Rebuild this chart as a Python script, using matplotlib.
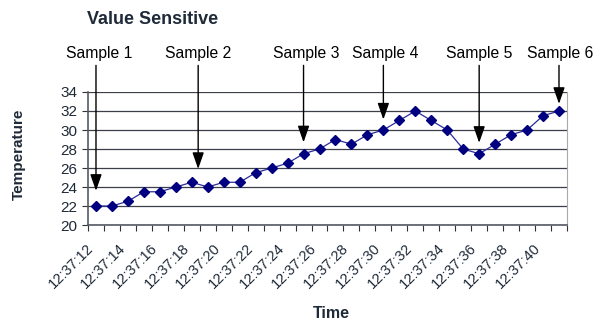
import matplotlib
matplotlib.use("Agg")
import matplotlib.pyplot as plt

plt.rcParams['font.family'] = ['Liberation Sans', 'DejaVu Sans']

# readings, one per second from 12:37:12 to 12:37:41
times = [f"12:37:{s}" for s in range(12, 42)]
temps = [22, 22, 22.5, 23.5, 23.5, 24, 24.5, 24, 24.5, 24.5,
         25.5, 26, 26.5, 27.5, 28, 29, 28.5, 29.5, 30, 31,
         32, 31, 30, 28, 27.5, 28.5, 29.5, 30, 31.5, 32]

# sample markers (x = category index, tip = temperature where the arrow points)
sample_labels = ["Sample 1", "Sample 2", "Sample 3", "Sample 4", "Sample 5", "Sample 6"]
sample_x = [0, 6.4, 13, 18, 24, 29]
sample_tip = [23.6, 25.9, 28.7, 31.1, 28.65, 32.75]
sample_text_x = [0.2, 6.4, 13.2, 18.1, 24, 29.1]

text_col = '#1f2a38'

fig = plt.figure(figsize=(6.04, 3.22), dpi=100)
ax = fig.add_axes([0.1457, 0.3012, 0.793, 0.4131])

x = list(range(len(times)))
ax.plot(x, temps, color='#2b2b9a', lw=0.9, marker='D', markersize=4.8,
        markerfacecolor='#000080', markeredgecolor='#000080', zorder=3)

ax.set_xlim(-0.5, len(times) - 0.5)
ax.set_ylim(20, 34)
ax.set_yticks(range(20, 35, 2))
ax.yaxis.grid(True, color='#3a3f4a', lw=0.9)
ax.set_axisbelow(True)

# ticks at category boundaries, labels on every second category
ax.set_xticks([i - 0.5 for i in range(len(times) + 1)])
ax.set_xticklabels([])
ax.set_xticks(x[::2], minor=True)
ax.set_xticklabels(times[::2], minor=True, rotation=45, ha='right', va='bottom',
                   rotation_mode='anchor', fontsize=10.5, color=text_col)
ax.tick_params(axis='x', which='major', length=4, color='#333333', direction='out')
ax.tick_params(axis='x', which='minor', length=0, pad=19)
ax.tick_params(axis='y', length=4, color='#333333', labelsize=11, labelcolor=text_col)

for side in ['left', 'bottom']:
    ax.spines[side].set_color('#555a63')
    ax.spines[side].set_linewidth(1.2)
ax.spines['right'].set_color('#aaaaaa')
ax.spines['top'].set_visible(False)

for lab, sx, tip, tx in zip(sample_labels, sample_x, sample_tip, sample_text_x):
    ax.annotate('', xy=(sx, tip), xytext=(sx, 36.8), annotation_clip=False,
                arrowprops=dict(arrowstyle='-|>,head_length=1.0,head_width=0.35',
                                mutation_scale=10, color='black', lw=1.0,
                                shrinkA=0, shrinkB=0))
    ax.text(tx, 38.0, lab, ha='center', va='center', fontsize=11.3,
            color='black', clip_on=False)

fig.text(153 / 604, 1 - 19.5 / 322, 'Value Sensitive', ha='center', va='center',
         fontsize=13, fontweight='bold', color=text_col)
fig.text(19 / 604, 1 - 154 / 322, 'Temperature', ha='center', va='center',
         rotation=90, fontsize=11, fontweight='bold', color=text_col)
fig.text(331 / 604, 1 - 314 / 322, 'Time', ha='center', va='center',
         fontsize=11.5, fontweight='bold', color=text_col)

fig.savefig('out.png', dpi=100)
